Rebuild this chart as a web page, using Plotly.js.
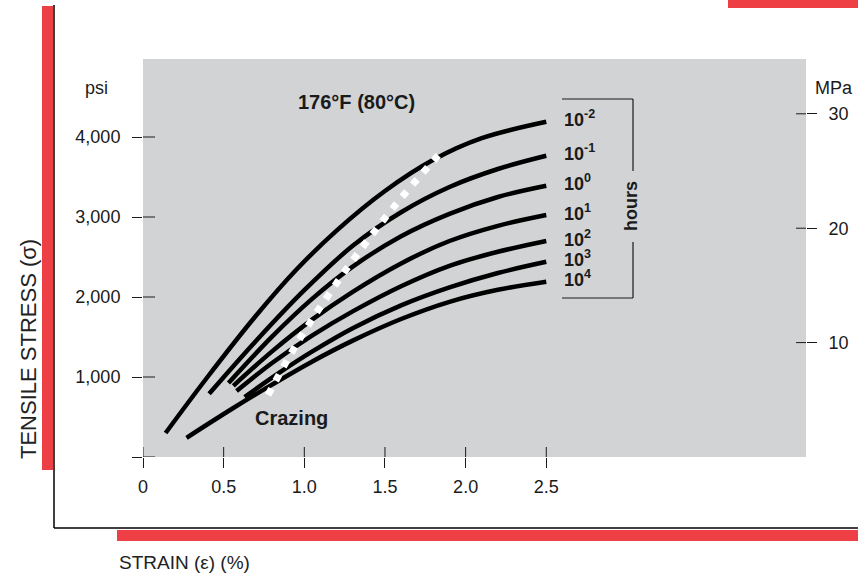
<!DOCTYPE html>
<html>
<head>
<meta charset="utf-8">
<script src="https://cdn.plot.ly/plotly-3.0.1.min.js"></script>
<style>html,body{margin:0;padding:0;background:#fff;}#chart{width:858px;height:577px;}</style>
</head>
<body>
<div id="chart"></div>
<script>
// ---- data ----
const curveLabels = ["10<sup>-2</sup>", "10<sup>-1</sup>", "10<sup>0</sup>", "10<sup>1</sup>", "10<sup>2</sup>", "10<sup>3</sup>", "10<sup>4</sup>"];
const strain_m2 = [0.14, 0.4, 0.7, 0.95, 1.2, 1.5, 1.8, 2.1, 2.5];
const stress_m2 = [300, 1000, 1765, 2340, 2830, 3325, 3715, 3985, 4190];
const strain_m1 = [0.41, 0.7, 1.0, 1.3, 1.6, 1.9, 2.2, 2.5];
const stress_m1 = [790, 1450, 2085, 2640, 3060, 3375, 3600, 3765];
const strain_0 = [0.53, 0.8, 1.05, 1.3, 1.6, 1.9, 2.2, 2.5];
const stress_0 = [925, 1505, 1980, 2380, 2760, 3040, 3250, 3390];
const strain_1 = [0.56, 0.8, 1.05, 1.3, 1.6, 1.9, 2.2, 2.5];
const stress_1 = [890, 1320, 1720, 2065, 2420, 2700, 2890, 3025];
const strain_2 = [0.58, 0.8, 1.05, 1.3, 1.6, 1.9, 2.2, 2.5];
const stress_2 = [825, 1175, 1520, 1820, 2135, 2390, 2565, 2700];
const strain_3 = [0.63, 0.85, 1.05, 1.3, 1.6, 1.9, 2.2, 2.5];
const stress_3 = [750, 1060, 1320, 1610, 1895, 2120, 2300, 2440];
const strain_4 = [0.27, 0.55, 0.8, 1.05, 1.3, 1.6, 1.9, 2.2, 2.5];
const stress_4 = [240, 600, 905, 1195, 1455, 1725, 1940, 2090, 2190];
const crazeStrain = [0.775, 0.96, 1.18, 1.33, 1.575, 1.83];
const crazeStress = [775, 1440, 2115, 2540, 3175, 3770];
const xTickVals = [0, 0.5, 1.0, 1.5, 2.0, 2.5];
const xTickText = ["0", "0.5", "1.0", "1.5", "2.0", "2.5"];
const yTickVals = [0, 1000, 2000, 3000, 4000];
const yTickText = ["", "1,000", "2,000", "3,000", "4,000"];
const mpaTickVals = [10, 20, 30];
const mpaTickText = ["10", "20", "30"];
const psiPerMPa = 143;

const strains = [strain_m2, strain_m1, strain_0, strain_1, strain_2, strain_3, strain_4];
const stresses = [stress_m2, stress_m1, stress_0, stress_1, stress_2, stress_3, stress_4];

// ---- geometry helpers (plot area in pixels) ----
const L = 143, R = 806, T = 59, B = 457;
const px = x => (x - L) / (R - L);
const py = y => (B - y) / (B - T);
const yTop = 4975;
const xMax = 4.11;

const FONT = "Liberation Sans, Arial, Helvetica, sans-serif";
const INK = "#1a1a1a";
const RED = "#ee3f45";

const traces = strains.map((xs, i) => ({
  x: xs, y: stresses[i], type: "scatter", mode: "lines",
  line: {color: "#000", width: 4.5, shape: "spline", smoothing: 1},
  hoverinfo: "skip", showlegend: false
}));
traces.push({
  x: crazeStrain, y: crazeStress, type: "scatter", mode: "lines",
  line: {color: "#fff", width: 7, dash: "7px,9px", shape: "spline", smoothing: 1},
  hoverinfo: "skip", showlegend: false
});
// invisible trace to activate y2
traces.push({x: [0], y: [0], yaxis: "y2", type: "scatter", mode: "markers", marker: {opacity: 0}, hoverinfo: "skip", showlegend: false});

const shapes = [];
const line = (x0, y0, x1, y1, w, c) => shapes.push({type: "line", xref: "paper", yref: "paper", x0: px(x0), y0: py(y0), x1: px(x1), y1: py(y1), line: {color: c || INK, width: w || 1}});
const rect = (x0, y0, x1, y1, c) => shapes.push({type: "rect", xref: "paper", yref: "paper", x0: px(x0), y0: py(y0), x1: px(x1), y1: py(y1), fillcolor: c, line: {width: 0}});

// inner halves of crossing ticks
yTickVals.forEach(v => shapes.push({type: "line", xref: "paper", yref: "y", x0: 0, x1: px(155), y0: v, y1: v, line: {color: INK, width: 1}}));
xTickVals.forEach(v => shapes.push({type: "line", xref: "x", yref: "paper", x0: v, x1: v, y0: 0, y1: py(447), line: {color: INK, width: 1}}));
mpaTickVals.forEach(v => shapes.push({type: "line", xref: "paper", yref: "y2", x0: px(796), x1: 1, y0: v, y1: v, line: {color: INK, width: 1}}));

// frame and red bars
rect(42, 6, 53, 470, RED);
rect(117, 530, 858, 541, RED);
rect(728, 0, 858, 8, RED);
line(54, 5, 54, 528, 1.5, "#000");
line(54, 528, 858, 528, 1.5, "#000");

// hours bracket
line(562, 99, 633, 99, 1.2);
line(633, 99, 633, 171, 1.2);
line(633, 242, 633, 298, 1.2);
line(562, 298, 633, 298, 1.2);

const ann = (text, x, y, opts) => Object.assign({
  text, xref: "paper", yref: "paper", x: px(x), y: py(y), showarrow: false,
  xanchor: "center", yanchor: "middle", font: {family: FONT, size: 18, color: INK}
}, opts || {});

const annotations = [
  ann("psi", 96, 88),
  ann("MPa", 834, 88),
  ann("<b>176°F (80°C)</b>", 356, 102, {font: {family: FONT, size: 20, color: INK}}),
  ann("<b>Crazing</b>", 291, 418, {font: {family: FONT, size: 20, color: INK}}),
  ann("<b>hours</b>", 631, 206, {textangle: -90, font: {family: FONT, size: 18, color: INK}}),
  ann("TENSILE STRESS (σ)", 28, 349, {textangle: -90, font: {family: FONT, size: 22, color: "#222"}}),
  ann("STRAIN (ε) (%)", 117, 562, {xanchor: "left", font: {family: FONT, size: 19, color: "#222"}})
];
curveLabels.forEach((t, i) => {
  const ys = stresses[i];
  annotations.push({
    text: "<b>" + t + "</b>", xref: "x", yref: "y",
    x: 2.6, y: ys[ys.length - 1], xanchor: "left", yanchor: "middle", yshift: 3,
    showarrow: false, font: {family: FONT, size: 18, color: INK}
  });
});

const layout = {
  width: 858, height: 577,
  margin: {l: L, r: 858 - R, t: T, b: 577 - B, pad: 0},
  paper_bgcolor: "#fff", plot_bgcolor: "#d1d3d4",
  showlegend: false,
  font: {family: FONT, size: 18, color: INK},
  xaxis: {
    range: [0, xMax], tickvals: xTickVals, ticktext: xTickText,
    ticks: "outside", ticklen: 10, tickwidth: 1, tickcolor: INK,
    ticklabelstandoff: 3,
    showgrid: false, zeroline: false, showline: false,
    tickfont: {family: FONT, size: 18, color: INK}
  },
  yaxis: {
    range: [0, yTop], tickvals: yTickVals, ticktext: yTickText,
    ticks: "outside", ticklen: 10, tickwidth: 1, tickcolor: INK,
    ticklabelstandoff: 8,
    showgrid: false, zeroline: false, showline: false,
    tickfont: {family: FONT, size: 18, color: INK}
  },
  yaxis2: {
    overlaying: "y", side: "right",
    range: [0, yTop / psiPerMPa], tickvals: mpaTickVals, ticktext: mpaTickText,
    ticks: "outside", ticklen: 10, tickwidth: 1, tickcolor: INK,
    ticklabelstandoff: 8,
    showgrid: false, zeroline: false, showline: false,
    tickfont: {family: FONT, size: 18, color: INK}
  },
  shapes, annotations
};

Plotly.newPlot("chart", traces, layout, {staticPlot: true, displayModeBar: false});
</script>
</body>
</html>
